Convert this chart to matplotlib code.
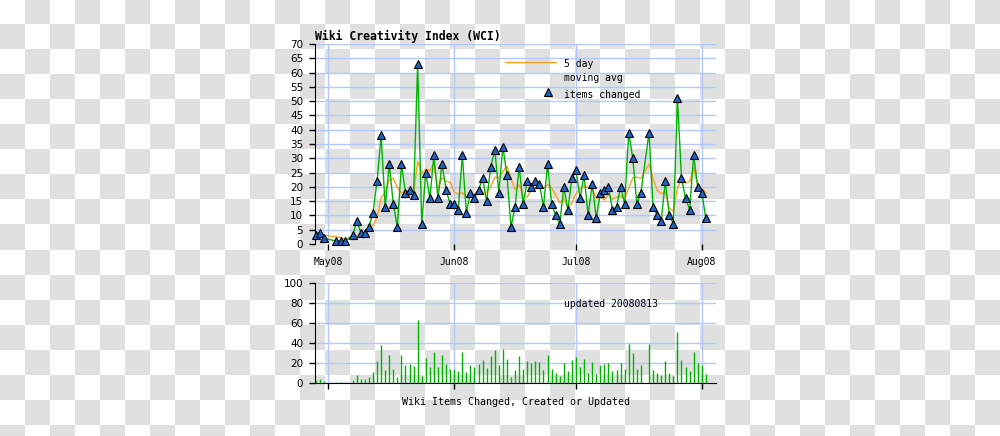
"""Wiki Creativity Index (WCI) chart: daily items changed + 5 day moving avg,
with a bar strip of the same counts underneath."""
import numpy as np
import pandas as pd
import matplotlib
matplotlib.use("Agg")
import matplotlib.pyplot as plt
import matplotlib.dates as mdates
from matplotlib.colors import ListedColormap
from matplotlib.lines import Line2D

# daily counts from 2008-04-28; None = no data that day
START = "2008-04-28"
items = [3, 4, 2, None, None, 1, 1, 1, None,
         3, 8, 4, 4, 6, 11, 22, 38, 13, 28, 14, 6, 28, 18, 19, 17, 63, 7, 25, 16,
         31, 16, 28, 19, 14, 14, 12, 31, 11, 18, 16, 19, 23, 15, 27, 33, 18, 34, 24, 6,
         13, 27, 14, 22, 20, 22, 21, 13, 28, 14, 10, 7, 20, 12, 23, 26, 16, 24, 10, 21,
         9, 18, 19, 20, 12, 13, 20, 14, 39, 30, 14, 18, None,
         39, 13, 10, 8, 22, 10, 7, 51, 23, 16, 12, 31, 20, 18, 9]
MA_WINDOW = 5
UPDATED = "updated 20080813"

GREEN, ORANGE, BLUE = "#00b300", "#ffa020", "#1e64c8"
GRID = "#b4c8ff"
MONO = "DejaVu Sans Mono"
MS = 5.6

s = pd.Series(items, index=pd.date_range(START, periods=len(items)), dtype=float).dropna()
ma = s.rolling(MA_WINDOW, min_periods=1).mean()

fig = plt.figure(figsize=(10, 4.36), dpi=100)

# transparent-png checkerboard backdrop
bg = fig.add_axes([0, 0, 1, 1], zorder=-10)
board = np.indices((18, 40)).sum(axis=0) % 2
bg.imshow(board, cmap=ListedColormap(["white", "#e0e0e0"]), extent=(0, 1000, 450, 0),
          interpolation="nearest", aspect="auto")
bg.set_xlim(0, 1000); bg.set_ylim(436, 0); bg.axis("off")

xlo, xhi = pd.Timestamp("2008-04-27 17:00"), pd.Timestamp("2008-08-04 12:00")


def style(ax):
    ax.patch.set_alpha(0)
    ax.set_xlim(xlo, xhi)
    ax.xaxis.set_major_locator(mdates.MonthLocator())
    ax.grid(True, color=GRID, lw=1, zorder=0)
    ax.set_axisbelow(True)
    for sp in ("top", "right"):
        ax.spines[sp].set_visible(False)
    ax.tick_params(axis="both", direction="out", length=4.5, width=1, color="black")
    ax.tick_params(axis="y", labelsize=7.5, pad=4)


# --- top: items changed + moving average
ax = fig.add_axes([0.315, 0.4404, 0.401, 0.4586])
style(ax)
ax.spines["bottom"].set_visible(False)
ax.set_ylim(0, 70)
ax.set_yticks(range(0, 71, 5))
ax.xaxis.set_major_formatter(mdates.DateFormatter("%b%y"))
for lb in ax.get_xticklabels():
    lb.set_fontfamily(MONO); lb.set_fontsize(7)
ax.tick_params(axis="x", pad=5)
ax.plot(ma.index, ma.values, color=ORANGE, lw=1, zorder=2)
ax.plot(s.index, s.values, color=GREEN, lw=1, zorder=3)
ax.plot(s.index, s.values, ls="none", marker="^", ms=MS, mfc=BLUE, mec="black",
        mew=0.8, zorder=4, clip_on=False)
fig.text(0.315, 0.917, "Wiki Creativity Index (WCI)", family=MONO, weight="bold",
         fontsize=8.3, va="center", ha="left")

# legend drawn by hand, matching the original layout
fig.add_artist(Line2D([0.505, 0.556], [1 - 62 / 436] * 2, color=ORANGE, lw=1))
fig.text(0.564, 1 - 64 / 436, "5 day", family=MONO, fontsize=7, va="center")
fig.text(0.564, 1 - 78 / 436, "moving avg", family=MONO, fontsize=7, va="center")
fig.add_artist(Line2D([0.548], [1 - 92 / 436], ls="none", marker="^", ms=MS,
                      mfc=BLUE, mec="black", mew=0.8))
fig.text(0.564, 1 - 95 / 436, "items changed", family=MONO, fontsize=7, va="center")

# --- bottom: bar strip
bx = fig.add_axes([0.315, 0.1209, 0.401, 0.2293])
style(bx)
bx.set_ylim(0, 100)
bx.set_yticks(range(0, 101, 20))
bx.xaxis.set_major_formatter(plt.NullFormatter())
bx.vlines(s.index, 0, s.values, color=GREEN, lw=1, zorder=3)
bx.set_xlabel("Wiki Items Changed, Created or Updated", family=MONO, fontsize=7.2,
              labelpad=2)
fig.text(0.564, 1 - 304 / 436, UPDATED, family=MONO, fontsize=7, va="center")

fig.savefig("out.png", dpi=100)
